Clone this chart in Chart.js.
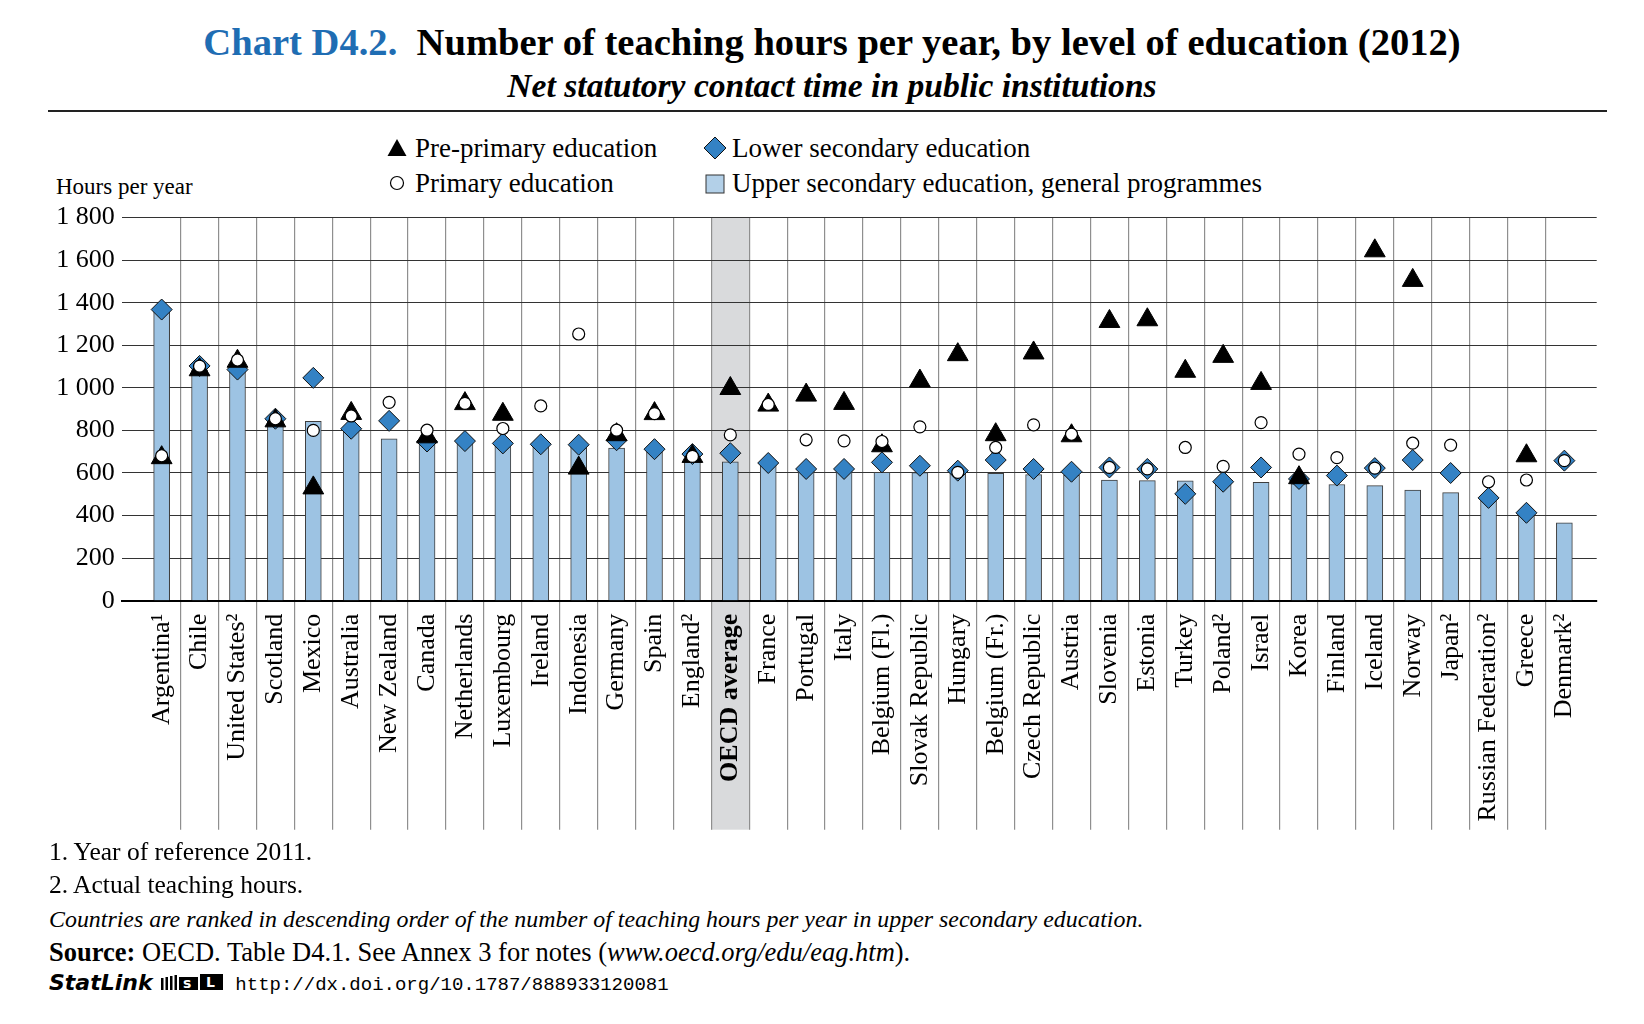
<!DOCTYPE html>
<html>
<head>
<meta charset="utf-8">
<script src="https://cdn.jsdelivr.net/npm/chart.js@4.4.1/dist/chart.umd.min.js"></script>
<style>
html,body{margin:0;padding:0;background:#fff;}
body{width:1644px;height:1024px;position:relative;overflow:hidden;font-family:"Liberation Serif","Times New Roman",serif;color:#000;}
.abs{position:absolute;white-space:nowrap;}
#title{left:20px;width:1624px;top:18px;text-align:center;font-size:38.6px;font-weight:bold;line-height:48px;}
#title .blue{color:#1f6db3;}
#subtitle{left:20px;width:1624px;top:65px;text-align:center;font-size:33.6px;font-weight:bold;font-style:italic;line-height:42px;}
#rule{left:48px;width:1559px;top:110px;height:2px;background:#222;}
.leg{font-size:27px;line-height:34px;height:34px;}
.mk{position:absolute;}
#ytitle{left:56px;top:172px;font-size:23px;line-height:30px;}
#wrap{position:absolute;left:0;top:195px;width:1644px;height:645px;}
.foot{left:49px;font-size:25.5px;line-height:32px;}
.mono{font-family:"Liberation Mono","DejaVu Sans Mono",monospace;font-size:19px;margin-left:4px;}
.sl{font-family:"DejaVu Sans",sans-serif;font-weight:bold;font-style:italic;font-size:22px;}
</style>
</head>
<body>
<div id="title" class="abs"><span class="blue">Chart D4.2.</span>&nbsp; Number of teaching hours per year, by level of education (2012)</div>
<div id="subtitle" class="abs">Net statutory contact time in public institutions</div>
<div id="rule" class="abs"></div>

<svg class="mk" style="left:387px;top:138px" width="20" height="20"><polygon points="10,1 19.5,18 0.5,18" fill="#000"/></svg>
<div class="abs leg" style="left:415px;top:131px">Pre-primary education</div>
<svg class="mk" style="left:389px;top:175px" width="16" height="16"><circle cx="8" cy="8" r="6.5" fill="#fff" stroke="#000" stroke-width="1.2"/></svg>
<div class="abs leg" style="left:415px;top:166px">Primary education</div>
<svg class="mk" style="left:703px;top:136px" width="24" height="24"><polygon points="12,1 23,12 12,23 1,12" fill="#3482c4" stroke="#111" stroke-width="1"/></svg>
<div class="abs leg" style="left:732px;top:131px">Lower secondary education</div>
<svg class="mk" style="left:705px;top:174px" width="20" height="20"><rect x="1" y="1" width="18" height="18" fill="#b3d0e8" stroke="#333" stroke-width="1"/></svg>
<div class="abs leg" style="left:732px;top:166px">Upper secondary education, general programmes</div>

<div id="ytitle" class="abs">Hours per year</div>

<div id="wrap"><canvas id="c"></canvas></div>

<div class="abs foot" style="top:836px">1. Year of reference 2011.</div>
<div class="abs foot" style="top:869px">2. Actual teaching hours.</div>
<div class="abs foot" style="top:903px;font-style:italic;font-size:23.9px">Countries are ranked in descending order of the number of teaching hours per year in upper secondary education.</div>
<div class="abs foot" style="top:936px;font-size:26.5px"><b>Source:</b> OECD. Table D4.1. See Annex 3 for notes (<i>www.oecd.org/edu/eag.htm</i>).</div>
<div class="abs foot" style="top:966px"><span class="sl">StatLink</span> <svg width="66" height="19" style="vertical-align:-2px"><g fill="#000"><rect x="2" y="5" width="2.5" height="12"/><rect x="6.5" y="4" width="2.5" height="13"/><rect x="11" y="3" width="2.5" height="14"/><rect x="15.5" y="2" width="2.5" height="15"/><rect x="20" y="4" width="19" height="13"/><rect x="41" y="1" width="23" height="16"/></g><text x="24" y="15" font-family="DejaVu Sans" font-weight="bold" font-size="14" fill="#fff">s</text><text x="47" y="14" font-family="DejaVu Sans" font-weight="bold" font-size="14" fill="#fff">L</text></svg> <span class="mono">http://dx.doi.org/10.1787/888933120081</span></div>

<script>
const categories = ['Argentina\u00B9','Chile','United States\u00B2','Scotland','Mexico','Australia','New Zealand','Canada','Netherlands','Luxembourg','Ireland','Indonesia','Germany','Spain','England\u00B2','OECD average','France','Portugal','Italy','Belgium (Fl.)','Slovak Republic','Hungary','Belgium (Fr.)','Czech Republic','Austria','Slovenia','Estonia','Turkey','Poland\u00B2','Israel','Korea','Finland','Iceland','Norway','Japan\u00B2','Russian Federation\u00B2','Greece','Denmark\u00B2'];
const prePrimary     = [672,1085,1125,845,530,880,null,770,926,876,null,623,780,879,678,997,919,966,927,728,1032,1156,780,1164,775,1312,1320,1078,1148,1021,578,null,1644,1505,null,null,681,null];
const primary        = [681,1102,1131,855,800,868,932,801,927,809,915,1253,801,879,678,779,922,756,751,748,817,603,720,826,782,626,619,720,631,837,689,672,623,740,731,559,567,658];
const lowerSecondary = [1368,1103,1086,855,1047,808,845,748,750,739,735,733,754,712,689,693,647,619,619,650,634,611,661,619,606,626,619,502,559,626,572,588,623,661,600,483,413,658];
const upperSecondary = [1368,1085,1078,850,843,804,760,747,745,739,735,733,717,697,662,653,647,619,617,603,602,601,598,592,589,567,564,563,558,556,549,546,541,520,508,470,405,366];
const yTickValues = [0,200,400,600,800,1000,1200,1400,1600,1800];
const highlightCategory = 'OECD average';

const toPoints = arr => arr.map((v, i) => ({x: i, y: v}));
const fmt = v => v >= 1000 ? Math.floor(v / 1000) + ' ' + String(v % 1000).padStart(3, '0') : String(v);

const shadePlugin = {
  id: 'shade',
  beforeDraw(chart) {
    const xs = chart.scales.x, ys = chart.scales.y, ctx = chart.ctx;
    const i = categories.indexOf(highlightCategory);
    const l = xs.getPixelForValue(i - 0.5), r = xs.getPixelForValue(i + 0.5);
    const t = ys.getPixelForValue(1800);
    const b = chart.chartArea.bottom + 229;
    ctx.save();
    ctx.fillStyle = '#d9dadc';
    ctx.fillRect(l, t, r - l, b - t);
    ctx.restore();
  }
};

new Chart(document.getElementById('c'), {
  data: {
    datasets: [
      {type: 'line', label: 'Primary education', data: toPoints(primary), showLine: false, pointStyle: 'circle', pointRadius: 6, pointHoverRadius: 6, backgroundColor: '#fff', borderColor: '#000', borderWidth: 1.2, order: 0},
      {type: 'line', label: 'Pre-primary education', data: toPoints(prePrimary), showLine: false, pointStyle: 'triangle', pointRadius: 12, pointHoverRadius: 12, backgroundColor: '#000', borderColor: '#000', borderWidth: 1, order: 1},
      {type: 'line', label: 'Lower secondary education', data: toPoints(lowerSecondary), showLine: false, pointStyle: 'rectRot', pointRadius: 10.5, pointHoverRadius: 10.5, backgroundColor: '#3482c4', borderColor: '#111', borderWidth: 1, order: 2},
      {type: 'bar', label: 'Upper secondary education, general programmes', data: toPoints(upperSecondary), backgroundColor: '#9dc3e3', borderColor: '#3d3d3d', borderWidth: 1, barThickness: 16, order: 3}
    ]
  },
  options: {
    responsive: true,
    maintainAspectRatio: false,
    animation: false,
    layout: {padding: {top: 20.7, right: 47.3, left: 0, bottom: 0}},
    plugins: {legend: {display: false}, tooltip: {enabled: false}},
    scales: {
      x: {
        type: 'linear', min: -1.054, max: 37.853, offset: false,
        afterBuildTicks: s => { s.ticks = categories.map((c, i) => ({value: i - 0.5})); },
        afterFit: s => { s.height = 239.3; },
        ticks: {
          autoSkip: false, maxRotation: 90, minRotation: 90, labelOffset: 19, padding: -216,
          callback: (v, i) => categories[i],
          color: '#000',
          font: ctx => ({family: 'Liberation Serif', size: 26, weight: categories[ctx.index] === highlightCategory ? 'bold' : 'normal'})
        },
        grid: {
          offset: false,
          color: ctx => ctx.index === 0 ? 'rgba(0,0,0,0)' : '#8f8f8f',
          tickColor: ctx => ctx.index === 0 ? 'rgba(0,0,0,0)' : '#8f8f8f',
          tickLength: 229, lineWidth: 1.2
        },
        border: {display: true, color: '#000', width: 2}
      },
      y: {
        min: 0, max: 1800,
        afterBuildTicks: s => { s.ticks = yTickValues.map(v => ({value: v})); },
        afterFit: s => { s.width = 121.7; },
        ticks: {callback: v => fmt(v), color: '#000', padding: 7, font: {family: 'Liberation Serif', size: 26}},
        grid: {color: '#333', lineWidth: 1.1, drawTicks: false},
        border: {display: false}
      }
    }
  },
  plugins: [shadePlugin]
});
</script>
</body>
</html>
